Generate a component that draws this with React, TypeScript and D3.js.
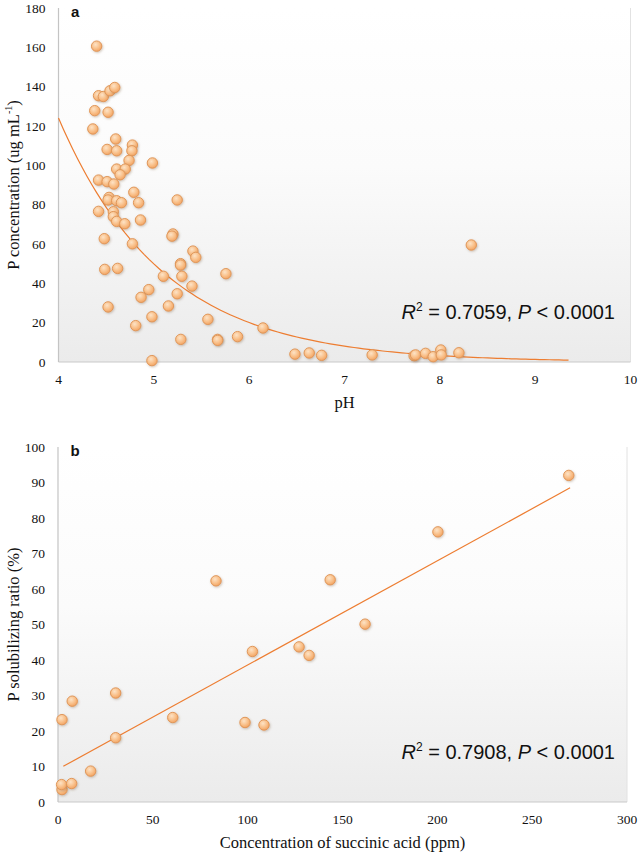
import React from "react";
import * as d3 from "d3";

// Panel a: pH vs P concentration
const phValues = [
  4.40, 4.42, 4.47, 4.54, 4.59, 4.38, 4.52, 4.36, 4.60, 4.51,
  4.61, 4.775, 4.77, 4.74, 4.985, 4.61, 4.70, 4.646, 4.42, 4.51,
  4.58, 4.79, 4.53, 4.52, 4.61, 4.66, 4.84, 5.245, 4.42, 4.575,
  4.575, 4.61, 4.695, 4.86, 5.20, 5.19, 4.48, 4.775, 5.41, 5.44,
  5.28, 5.28, 4.485, 4.62, 5.756, 5.10, 5.294, 5.40, 4.947, 4.866,
  5.245, 4.52, 5.153, 4.98, 5.567, 4.81, 6.145, 5.283, 5.668, 5.67,
  5.878, 4.98, 6.48, 6.63, 6.76, 7.29, 7.73, 7.745, 7.85, 7.93,
  8.01, 8.015, 8.20, 8.33,
];
const pConc = [
  160.6, 135.4, 135.0, 137.9, 139.6, 127.8, 127.0, 118.5, 113.4, 108.1,
  107.4, 110.3, 107.4, 102.5, 101.2, 98.1, 98.1, 95.2, 92.5, 91.7,
  90.5, 86.3, 83.7, 82.4, 82.0, 81.0, 81.0, 82.4, 76.6, 76.4,
  73.9, 71.5, 70.3, 72.2, 65.1, 64.0, 62.7, 60.1, 56.4, 53.2,
  50.0, 49.3, 47.1, 47.6, 44.9, 43.6, 43.6, 38.6, 36.8, 32.9,
  34.7, 28.0, 28.5, 23.0, 21.7, 18.5, 17.3, 11.5, 11.5, 11.0,
  12.9, 0.7, 4.0, 4.6, 3.4, 3.6, 3.2, 3.6, 4.4, 2.7,
  6.1, 3.6, 4.7, 59.5,
];
// exponential trendline y = A * exp(-B x), drawn from pH 4 to 9.35
const trendA = { a: 4743, b: 0.911, x0: 4, x1: 9.35 };
const xTicksA = [4, 5, 6, 7, 8, 9, 10];
const yTicksA = [0, 20, 40, 60, 80, 100, 120, 140, 160, 180];

// Panel b: succinic acid vs P solubilizing ratio
const succinic = [
  2.1, 1.9, 7.2, 17.2, 30.4, 2.1, 7.5, 30.4, 60.5, 83.3,
  98.6, 102.5, 108.6, 127.1, 132.4, 143.5, 161.9, 200.3, 269.3,
];
const solRatio = [
  3.5, 4.9, 5.2, 8.7, 18.1, 23.2, 28.4, 30.7, 23.8, 62.3,
  22.4, 42.4, 21.7, 43.7, 41.3, 62.6, 50.1, 76.1, 92.0,
];
// linear trendline y = slope*x + intercept, drawn from x 2.8 to 270
const trendB = { slope: 0.2936, intercept: 9.23, x0: 2.8, x1: 270 };
const xTicksB = [0, 50, 100, 150, 200, 250, 300];
const yTicksB = [0, 10, 20, 30, 40, 50, 60, 70, 80, 90, 100];

const SERIF = "Liberation Serif, DejaVu Serif, serif";
const SANS = "Liberation Sans, Arial, sans-serif";
const TREND = "#ed7d31";

function Marker({ cx, cy }: { cx: number; cy: number }) {
  return (
    <circle
      cx={cx}
      cy={cy}
      r={5.2}
      fill="url(#mGrad)"
      stroke="#e0975a"
      strokeWidth={1}
      filter="url(#mShadow)"
    />
  );
}

function Panel(props: {
  xs: number[];
  ys: number[];
  xDomain: [number, number];
  yDomain: [number, number];
  left: number;
  right: number;
  top: number;
  bottom: number;
  xTicks: number[];
  yTicks: number[];
  trend: string;
  label: string;
  xTitle: string;
  yTitle: React.ReactNode;
  stat: string;
  gradId: string;
}) {
  const x = d3.scaleLinear().domain(props.xDomain).range([props.left, props.right]);
  const y = d3.scaleLinear().domain(props.yDomain).range([props.bottom, props.top]);
  const midX = (props.left + props.right) / 2;
  const midY = (props.top + props.bottom) / 2;
  const serif = { fontFamily: SERIF };
  return (
    <g>
      <rect
        x={props.left}
        y={props.top}
        width={props.right - props.left}
        height={props.bottom - props.top}
        fill={`url(#${props.gradId})`}
      />
      <line x1={props.right} x2={props.right} y1={props.top} y2={props.bottom} stroke="#e2e2e2" strokeWidth={1} />
      <line x1={props.left} x2={props.right} y1={props.bottom} y2={props.bottom} stroke="#c9c9c9" strokeWidth={1.2} />
      <line x1={props.left} x2={props.left} y1={props.top} y2={props.bottom} stroke="#c4c4c4" strokeWidth={1.2} />
      {props.yTicks.map((t) => (
        <text key={"y" + t} x={props.left - 13} y={y(t) + 4.5} textAnchor="end" style={serif} fontSize={13.5} fill="#111">
          {t}
        </text>
      ))}
      {props.xTicks.map((t) => (
        <text key={"x" + t} x={x(t)} y={props.bottom + 22} textAnchor="middle" style={serif} fontSize={13.5} fill="#111">
          {t}
        </text>
      ))}
      <path d={props.trend} fill="none" stroke={TREND} strokeWidth={1.2} />
      {props.xs.map((v, i) => (
        <Marker key={i} cx={x(v)} cy={y(props.ys[i])} />
      ))}
      <text x={props.left + 12.5} y={props.top + 9} style={{ fontFamily: SANS }} fontWeight="bold" fontSize={15} fill="#111">
        {props.label}
      </text>
      <text x={615} y={props.bottom - 43} textAnchor="end" style={{ fontFamily: SANS }} fontSize={20} fill="#111">
        <tspan fontStyle="italic">R</tspan>
        <tspan fontSize={12} dy={-8}>2</tspan>
        <tspan dy={8}>{" = " + props.stat + ",  "}</tspan>
        <tspan fontStyle="italic">P</tspan>
        <tspan>{" < 0.0001"}</tspan>
      </text>
      <text x={midX} y={props.bottom + 46} textAnchor="middle" style={serif} fontSize={16.5} fill="#111">
        {props.xTitle}
      </text>
      <text transform={`translate(19,${midY}) rotate(-90)`} textAnchor="middle" style={serif} fontSize={16.5} fill="#111">
        {props.yTitle}
      </text>
    </g>
  );
}

export default function App() {
  // Panel a geometry
  const aL = 58.5, aR = 630.5, aT = 8, aB = 362;
  const xa = d3.scaleLinear().domain([4, 10]).range([aL, aR]);
  const ya = d3.scaleLinear().domain([0, 180]).range([aB, aT]);
  const trendXs = d3.range(trendA.x0, trendA.x1 + 1e-9, 0.05);
  const trendPathA =
    d3.line<number>()
      .x((v) => xa(v))
      .y((v) => ya(trendA.a * Math.exp(-trendA.b * v)))(trendXs) || "";

  // Panel b geometry
  const bL = 58, bR = 627, bT = 447, bB = 802;
  const xb = d3.scaleLinear().domain([0, 300]).range([bL, bR]);
  const yb = d3.scaleLinear().domain([0, 100]).range([bB, bT]);
  const trendPathB =
    d3.line<number>()
      .x((v) => xb(v))
      .y((v) => yb(trendB.slope * v + trendB.intercept))([trendB.x0, trendB.x1]) || "";

  return (
    <svg
      width={638}
      height={853}
      style={{ position: "absolute", left: 0, top: 0, background: "#fff" }}
    >
      <defs>
        <radialGradient id="mGrad" cx="40%" cy="35%" r="65%">
          <stop offset="0%" stopColor="#fde3c6" />
          <stop offset="60%" stopColor="#f9c08a" />
          <stop offset="100%" stopColor="#f3a564" />
        </radialGradient>
        <filter id="mShadow" x="-50%" y="-50%" width="200%" height="200%">
          <feDropShadow dx={0.8} dy={1} stdDeviation={0.8} floodColor="#7a5a3a" floodOpacity={0.35} />
        </filter>
        <linearGradient id="bgA" x1="0" y1="0" x2="0" y2="1">
          <stop offset="0%" stopColor="#ffffff" />
          <stop offset="45%" stopColor="#fbfbfb" />
          <stop offset="100%" stopColor="#ebebeb" />
        </linearGradient>
        <linearGradient id="bgB" x1="0" y1="0" x2="0" y2="1">
          <stop offset="0%" stopColor="#ffffff" />
          <stop offset="45%" stopColor="#fbfbfb" />
          <stop offset="100%" stopColor="#ebebeb" />
        </linearGradient>
      </defs>
      <Panel
        xs={phValues}
        ys={pConc}
        xDomain={[4, 10]}
        yDomain={[0, 180]}
        left={aL}
        right={aR}
        top={aT}
        bottom={aB}
        xTicks={xTicksA}
        yTicks={yTicksA}
        trend={trendPathA}
        label="a"
        xTitle="pH"
        yTitle={
          <>
            <tspan>P concentration (ug mL</tspan>
            <tspan fontSize={10} dy={-7}>-1</tspan>
            <tspan dy={7}>)</tspan>
          </>
        }
        stat="0.7059"
        gradId="bgA"
      />
      <Panel
        xs={succinic}
        ys={solRatio}
        xDomain={[0, 300]}
        yDomain={[0, 100]}
        left={bL}
        right={bR}
        top={bT}
        bottom={bB}
        xTicks={xTicksB}
        yTicks={yTicksB}
        trend={trendPathB}
        label="b"
        xTitle="Concentration of succinic acid (ppm)"
        yTitle={<tspan>P solubilizing ratio (%)</tspan>}
        stat="0.7908"
        gradId="bgB"
      />
    </svg>
  );
}
